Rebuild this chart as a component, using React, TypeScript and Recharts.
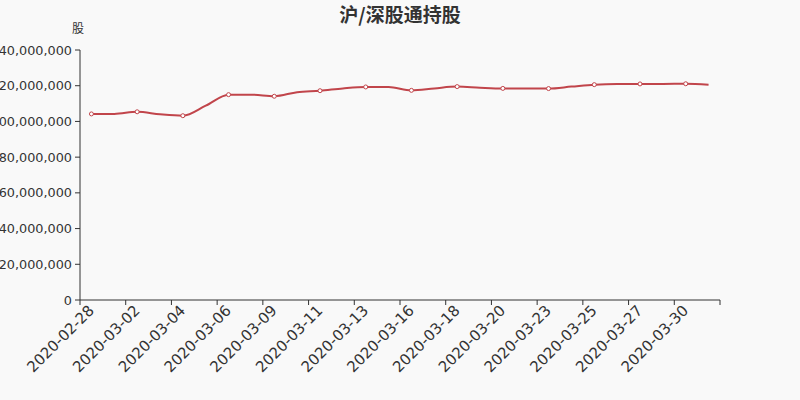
import React from 'react';
import { LineChart, Line, XAxis, YAxis } from 'recharts';

const dates = [
  '2020-02-28', '2020-03-01', '2020-03-02', '2020-03-03', '2020-03-04', '2020-03-05', '2020-03-06',
  '2020-03-08', '2020-03-09', '2020-03-10', '2020-03-11', '2020-03-12', '2020-03-13', '2020-03-15',
  '2020-03-16', '2020-03-17', '2020-03-18', '2020-03-19', '2020-03-20', '2020-03-22', '2020-03-23',
  '2020-03-24', '2020-03-25', '2020-03-26', '2020-03-27', '2020-03-29', '2020-03-30', '2020-03-31',
];

const holdings = [
  104200000, 104200000, 105400000, 104000000, 103200000, 108800000, 115000000,
  115000000, 114100000, 116400000, 117200000, 118500000, 119300000, 119300000,
  117400000, 118500000, 119500000, 118900000, 118500000, 118500000, 118400000,
  119500000, 120600000, 121000000, 121000000, 121000000, 121100000, 120600000,
];

const yTicks = [0, 20000000, 40000000, 60000000, 80000000, 100000000, 120000000, 140000000];

const title = '沪/深股通持股';
const unitName = '股';

const data = dates.map((date, i) => ({ date, value: holdings[i] }));

const LINE_COLOR = '#c1454b';
const AXIS_COLOR = '#333';
const FONT = "'DejaVu Sans', sans-serif";

const XTick = (props: any) => {
  const { x, y, payload } = props;
  const half = payload && typeof payload.offset === 'number' && payload.offset > 0 ? payload.offset : 640 / dates.length / 2;
  const idx = dates.indexOf(payload.value);
  const isLast = idx + 2 >= dates.length;
  return (
    <g>
      <line x1={x - half} x2={x - half} y1={y - 8} y2={y - 3} stroke={AXIS_COLOR} strokeWidth={1} />
      {isLast && (
        <line x1={x + 3 * half} x2={x + 3 * half} y1={y - 8} y2={y - 3} stroke={AXIS_COLOR} strokeWidth={1} />
      )}
      <text
        x={x}
        y={y}
        transform={`rotate(-45, ${x}, ${y})`}
        textAnchor="end"
        dominantBaseline="central"
        fill="#333"
        fontSize={15}
        fontFamily={FONT}
      >
        {payload.value}
      </text>
    </g>
  );
};

const renderDot = (p: any) => {
  const { cx, cy, index } = p;
  if (index % 2 !== 0) return <g key={`d${index}`} />;
  return <circle key={`d${index}`} cx={cx} cy={cy} r={2} fill="#fff" stroke={LINE_COLOR} strokeWidth={1} />;
};

export default function App() {
  return (
    <div style={{ position: 'fixed', left: 0, top: 0, width: 800, height: 400, background: '#f9f9f9', overflow: 'hidden' }}>
      <div
        style={{
          position: 'absolute', left: 0, top: 2, width: 800, textAlign: 'center',
          fontFamily: "'Noto Sans CJK SC', sans-serif", fontSize: 19, fontWeight: 'bold', color: '#333', lineHeight: '24px',
        }}
      >
        {title}
      </div>
      <div
        style={{
          position: 'absolute', left: 72, top: 20, fontFamily: "'Noto Sans CJK SC', sans-serif",
          fontSize: 12, color: '#333', lineHeight: '16px',
        }}
      >
        {unitName}
      </div>
      <LineChart width={800} height={400} data={data} margin={{ top: 50, right: 80, bottom: 0, left: 0 }}>
        <XAxis
          dataKey="date"
          scale="band"
          interval={1}
          height={100}
          tickLine={false}
          tickSize={5}
          tickMargin={3}
          axisLine={{ stroke: AXIS_COLOR }}
          tick={<XTick />}
        />
        <YAxis
          width={80}
          domain={[0, 140000000]}
          ticks={yTicks}
          interval={0}
          tickSize={5}
          tickMargin={3}
          axisLine={{ stroke: AXIS_COLOR }}
          tickLine={{ stroke: AXIS_COLOR }}
          tick={{ fill: '#333', fontSize: 12.8, fontFamily: FONT }}
          tickFormatter={(v: number) => v.toLocaleString('en-US')}
        />
        <Line
          type="monotone"
          dataKey="value"
          stroke={LINE_COLOR}
          strokeWidth={2}
          dot={renderDot}
          activeDot={false}
          isAnimationActive={false}
        />
      </LineChart>
    </div>
  );
}
